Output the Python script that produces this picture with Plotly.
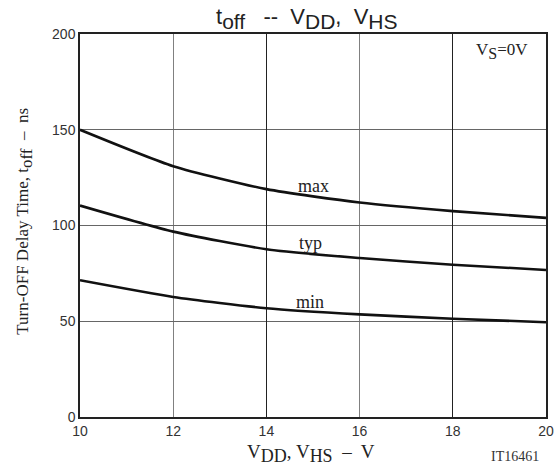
import plotly.graph_objects as go

vdd = [10, 12, 14, 16, 18, 20]
t_max = [150, 131, 119, 112, 107.5, 104]
t_typ = [110.4, 96.8, 87.6, 83, 79.5, 76.8]
t_min = [71.4, 62.7, 56.8, 53.6, 51.3, 49.5]

x_ticks = [10, 12, 14, 16, 18, 20]
y_ticks = [0, 50, 100, 150, 200]
dark_grid_x = [14, 18]

labels = [("max", 15.0, 120.5), ("typ", 14.94, 91.0), ("min", 14.93, 60.3)]

fig = go.Figure()
for ys in (t_max, t_typ, t_min):
    fig.add_trace(go.Scatter(x=vdd, y=ys, mode="lines",
                             line=dict(color="#111111", width=2.6, shape="spline", smoothing=0.6),
                             showlegend=False, hoverinfo="skip"))
# invisible trace on overlay axis for darker grid lines
fig.add_trace(go.Scatter(x=[10, 20], y=[0, 0], xaxis="x2", mode="lines",
                         line=dict(width=0), showlegend=False, hoverinfo="skip"))

serif = "Liberation Serif, Times New Roman, serif"
sans = "Liberation Sans, Arial, sans-serif"


def sub(t, px):
    return "<sub><span style='font-size:%dpx'>%s</span></sub>" % (px, t)


fig.update_layout(
    width=557, height=468,
    margin=dict(l=80, r=11, t=34, b=51),
    paper_bgcolor="white", plot_bgcolor="white",
    xaxis=dict(range=[10, 20], tickvals=x_ticks, ticktext=[str(v) for v in x_ticks],
               showgrid=True, gridcolor="#808080", gridwidth=1,
               showline=True, linecolor="#222222", linewidth=1.5, mirror=True,
               zeroline=False, ticks="", ticklen=0, automargin=False,
               tickfont=dict(family=sans, size=14, color="#333333")),
    xaxis2=dict(range=[10, 20], overlaying="x", tickvals=dark_grid_x, showticklabels=False,
                showgrid=True, gridcolor="#222222", gridwidth=1, zeroline=False,
                showline=False, ticks="", automargin=False),
    yaxis=dict(range=[0, 200], tickvals=y_ticks, ticktext=[str(v) for v in y_ticks],
               showgrid=True, gridcolor="#666666", gridwidth=1,
               showline=True, linecolor="#222222", linewidth=1.5, mirror=True,
               zeroline=False, ticks="", ticklen=0, automargin=False,
               tickfont=dict(family=sans, size=14, color="#333333")),
)

# chart title
fig.add_annotation(text="t" + sub("off", 21) + "   --  V" + sub("DD", 21) + ",  V" + sub("HS", 21),
                   xref="paper", yref="paper", x=0.487, y=1, yanchor="bottom", yshift=-1,
                   showarrow=False, font=dict(family=sans, size=22, color="#222222"))
# axis titles
fig.add_annotation(text="V" + sub("DD", 18) + ", V" + sub("HS", 18) + "  –  V",
                   xref="paper", yref="paper", x=0.495, y=-0.095, yanchor="middle",
                   showarrow=False, font=dict(family=serif, size=19, color="#222222"))
fig.add_annotation(text="Turn-OFF Delay Time, t" + sub("off", 17) + "  –  ns",
                   xref="paper", yref="paper", x=-0.118, y=0.51, xanchor="center", yanchor="middle",
                   textangle=-90, showarrow=False, font=dict(family=serif, size=17, color="#222222"))
fig.add_annotation(text="V" + sub("S", 16) + "=0V", xref="paper", yref="paper", x=0.966, y=0.99,
                   xanchor="right", yanchor="top", showarrow=False,
                   font=dict(family=serif, size=17, color="#222222"))
fig.add_annotation(text="IT16461", xref="paper", yref="paper", x=0.99, y=-0.102,
                   xanchor="right", yanchor="middle", showarrow=False,
                   font=dict(family=serif, size=14, color="#333333"))
for txt, lx, ly in labels:
    fig.add_annotation(text=txt, x=lx, y=ly, xref="x", yref="y", showarrow=False,
                       yanchor="middle", font=dict(family=serif, size=18, color="#222222"))

fig.write_html("out.html", config={"displayModeBar": False},
               post_script="document.body.style.margin='0';")
